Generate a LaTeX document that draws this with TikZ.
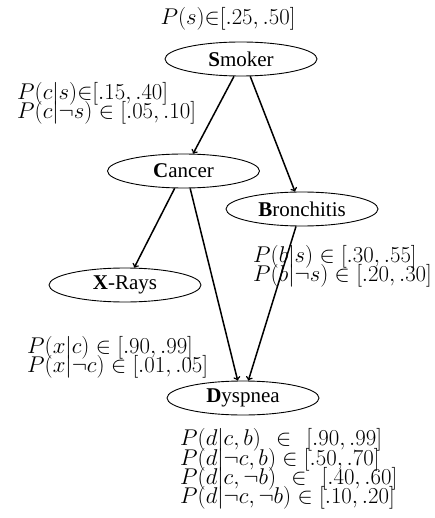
\RequirePackage{fix-cm}
\documentclass[tikz,border=0pt]{standalone}
\usepackage{fontspec}
\setmainfont{Liberation Serif}
\usetikzlibrary{shapes.geometric}
\begin{document}
\begin{tikzpicture}[x=1pt,y=-1pt,
  var/.style={draw,ellipse,line width=0.9pt,minimum width=152pt,minimum height=34pt,inner sep=0pt,font=\fontsize{21}{25}\selectfont},
  lbl/.style={inner sep=0pt,anchor=base west,font=\fontsize{22.8}{26}\selectfont},
  edge/.style={->,line width=1.5pt}]
\useasboundingbox (0,0) rectangle (435,518);
\node[var] (s) at (241,59) {\textbf{S}moker};
\node[var] (c) at (183.5,171) {\textbf{C}ancer};
\node[var] (b) at (302,209) {\textbf{B}ronchitis};
\node[var] (x) at (125,285) {\textbf{X}-Rays};
\node[var] (d) at (243,398) {\textbf{D}yspnea};
\draw[edge] (s.-112) -- (c.61);
\draw[edge] (s.-62) -- (b.112);
\draw[edge] (c.-117) -- (x.62);
\draw[edge] (c.-69) -- (d.107);
\draw[edge] (b.-109) -- (d.73);
\node[lbl,anchor=base] (ls) at (228,25) {$P(s){\in}[.25,.50]$};
\node[lbl] (lc1) at (17,100) {$P(c|s){\in}[.15,.40]$};
\node[lbl] (lc2) at (17,119) {$P(c|\neg s)\in[.05,.10]$};
\node[lbl] (lb1) at (253,262) {$P(b|s)\in[.30,.55]$};
\node[lbl] (lb2) at (253,281) {$P(b|\neg s)\in[.20,.30]$};
\node[lbl] (lx1) at (27,353) {$P(x|c)\in[.90,.99]$};
\node[lbl] (lx2) at (27,372) {$P(x|\neg c)\in[.01,.05]$};
\node[lbl] (ld1) at (180,445) {$P(d|c,b)\mkern7mu\in\mkern7mu[.90,.99]$};
\node[lbl] (ld2) at (180,465) {$P(d|\neg c,b)\in[.50,.70]$};
\node[lbl] (ld3) at (180,484) {$P(d|c,\neg b)\mkern7mu\in\mkern7mu[.40,.60]$};
\node[lbl] (ld4) at (180,503) {$P(d|\neg c,\neg b)\in[.10,.20]$};
\end{tikzpicture}
\end{document}
